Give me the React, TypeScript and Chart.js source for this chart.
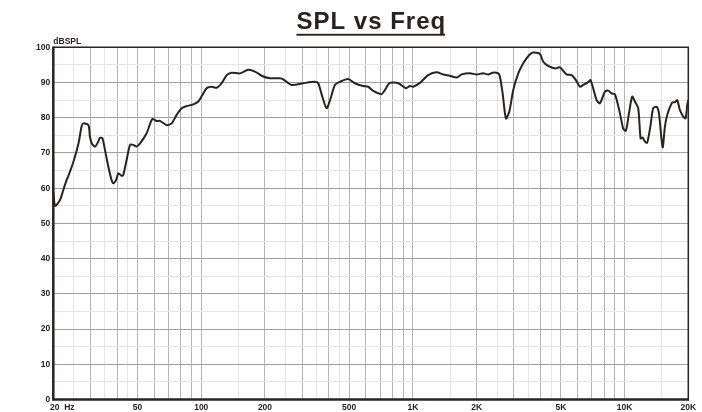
import React, { useEffect, useRef } from "react";
import { Chart, registerables } from "chart.js";

Chart.register(...registerables);

const titleText = "SPL vs Freq";
const yUnitLabel = "dBSPL";

const freqHz = [
  20, 20.4, 21.5, 22.3, 23.1, 23.5, 24.9, 26.3, 27.2, 27.7, 29.3, 29.8, 30.4, 31.5, 32.6, 33.2, 34.1,
  35.1, 36.4, 37.7, 38.4, 39.6, 40.6, 42.1, 42.8, 44.4, 46.1, 47.7, 49.5, 51.4, 55.2, 58.7, 61.6,
  63.8, 68.7, 72.5, 76.5, 80.8, 85.4, 91.7, 96.8, 102.2, 106.1, 112, 118.3, 124.9, 131.9, 139.2,
  152.4, 166.8, 179.4, 196.3, 211.3, 235.4, 244, 267, 303, 344, 357, 371, 391, 406, 428, 452, 494,
  532, 582, 615, 650, 711, 738, 778, 853, 927, 968, 1003, 1079, 1181, 1294, 1390, 1496, 1610, 1700,
  1860, 2000, 2150, 2270, 2380, 2530, 2576, 2654, 2750, 2852, 2979, 3146, 3322, 3546, 3702, 3982,
  4128, 4358, 4688, 4950, 5324, 5620, 5888, 6152, 6376, 6732, 6910, 7376, 7646, 8072, 8368, 8684,
  9000, 9504, 9852, 10146, 10518, 10866, 11190, 11600, 11906, 12166, 12474, 12790, 13268, 13650,
  14170, 14526, 15126, 15508, 15900, 16786, 17288, 17726, 18254, 18920, 19418, 19762, 20000,
];

const splDb = [
  59.0, 55.0, 56.6, 59.5, 62.3, 63.3, 67.5, 72.7, 77.5, 78.4, 77.9, 74.6, 72.7, 71.8, 73.2, 74.3, 74.2,
  70.8, 66.1, 62.3, 61.4, 62.3, 64.2, 63.5, 63.7, 68.0, 72.3, 72.3, 71.8, 72.7, 75.6, 79.6, 79.1,
  79.1, 77.9, 78.4, 80.8, 82.7, 83.3, 83.8, 84.6, 86.9, 88.4, 88.8, 88.5, 89.8, 92.1, 92.8,
  92.6, 93.6, 93.1, 91.7, 91.2, 91.2, 90.9, 89.3, 89.8, 90.2, 89.8, 86.5, 82.7, 85.0, 89.3, 90.2, 91.0,
  89.8, 89.0, 88.8, 87.6, 86.7, 87.9, 89.9, 89.8, 88.4, 89.0, 88.8, 89.9, 92.1, 92.9, 92.3, 91.9, 91.4, 92.3,
  92.6, 92.3, 92.6, 92.3, 92.8, 92.6, 91.7, 86.9, 79.8, 81.7, 87.9, 92.6, 95.5, 97.8, 98.5, 98.1,
  95.9, 94.7, 94.0, 94.3, 92.3, 92.1, 90.7, 88.8, 89.3, 90.1, 90.7, 85.0, 84.1, 87.4, 87.7, 86.9,
  86.7, 81.3, 76.9, 76.3, 81.7, 86.0, 84.6, 82.7, 74.1, 74.4, 73.2, 72.9, 77.9, 82.7,
  83.1, 81.3, 71.6, 77.5, 80.8, 84.3, 84.4, 85.0, 82.2, 80.4, 79.8, 83.6, 85.0,
];

const xTickValues = [20, 50, 100, 200, 500, 1000, 2000, 5000, 10000, 20000];
const xTickLabels = ["20  Hz", "50", "100", "200", "500", "1K", "2K", "5K", "10K", "20K"];
const yTickValues = [0, 10, 20, 30, 40, 50, 60, 70, 80, 90, 100];
const gridMultipliers = [1, 1.5, 2, 2.5, 3, 3.5, 4, 4.5, 5, 6, 7, 8, 9];
const gridDecades = [10, 100, 1000, 10000];

const INK = "#2a2220";
const FONT = '"Liberation Sans", Arial, Helvetica, sans-serif';

function isMajorFreq(v: number) {
  const m = v / Math.pow(10, Math.floor(Math.log10(v) + 1e-9));
  return Math.abs(m - Math.round(m)) < 1e-6;
}

const decorPlugin = {
  id: "decor",
  afterDraw(chart: any) {
    const ctx = chart.ctx as CanvasRenderingContext2D;
    const { left, right, top, bottom } = chart.chartArea;
    ctx.save();
    // frame
    ctx.strokeStyle = INK;
    ctx.lineWidth = 1.5;
    ctx.beginPath();
    ctx.moveTo(left, top);
    ctx.lineTo(right, top);
    ctx.lineTo(right, bottom);
    ctx.stroke();
    ctx.lineWidth = 2.5;
    ctx.beginPath();
    ctx.moveTo(left, top - 0.75);
    ctx.lineTo(left, bottom);
    ctx.lineTo(right + 0.75, bottom);
    ctx.stroke();

    // x tick labels
    const xs = chart.scales.x;
    ctx.fillStyle = INK;
    ctx.font = `bold 8.5px ${FONT}`;
    ctx.textBaseline = "alphabetic";
    xTickValues.forEach((v, i) => {
      const px = xs.getPixelForValue(v);
      if (i === 0) {
        ctx.textAlign = "left";
        ctx.fillText(xTickLabels[i], px - 3.3, bottom + 10);
      } else {
        ctx.textAlign = "center";
        ctx.fillText(xTickLabels[i], px, bottom + 10);
      }
    });

    // unit label
    ctx.textAlign = "left";
    ctx.fillText(yUnitLabel, left, top - 3.3);

    // title
    ctx.font = `bold 24px ${FONT}`;
    (ctx as any).letterSpacing = "1px";
    const w = ctx.measureText(titleText).width - 1;
    const cx = (left + right) / 2;
    const x0 = cx - w / 2;
    ctx.textAlign = "left";
    ctx.fillText(titleText, x0, 29);
    ctx.fillRect(x0, 33.8, w, 1.9);
    ctx.restore();
  },
};

export default function App() {
  const ref = useRef<HTMLCanvasElement | null>(null);

  useEffect(() => {
    if (!ref.current) return;
    const points = freqHz.map((f, i) => ({ x: f, y: splDb[i] }));
    const gridVals: number[] = [];
    gridDecades.forEach((d) =>
      gridMultipliers.forEach((m) => {
        const v = d * m;
        if (v >= 20 && v <= 20000) gridVals.push(v);
      })
    );

    const chart = new Chart(ref.current, {
      type: "line",
      data: {
        datasets: [
          {
            data: points,
            borderColor: INK,
            borderWidth: 2,
            pointRadius: 0,
            tension: 0.25,
            fill: false,
          },
        ],
      },
      options: {
        animation: false,
        responsive: false,
        devicePixelRatio: 1,
        layout: { padding: { top: 47.3, right: 13.7, left: 0, bottom: 0 } },
        plugins: {
          legend: { display: false },
          title: { display: false },
          tooltip: { enabled: false },
        },
        scales: {
          x: {
            type: "logarithmic",
            min: 20,
            max: 20000,
            afterBuildTicks: (scale: any) => {
              scale.ticks = gridVals.map((v) => ({ value: v }));
            },
            afterFit: (scale: any) => {
              scale.height = 12.5;
            },
            ticks: { display: false, autoSkip: false },
            border: { display: false },
            grid: {
              drawTicks: false,
              lineWidth: 1,
              color: (c: any) => (isMajorFreq(c.tick.value) ? "#b4b4b4" : "#e4e4e4"),
            },
          },
          y: {
            type: "linear",
            min: 0,
            max: 100,
            afterBuildTicks: (scale: any) => {
              const t: { value: number }[] = [];
              for (let v = 0; v <= 100; v += 5) t.push({ value: v });
              scale.ticks = t;
            },
            afterFit: (scale: any) => {
              scale.width = 53.3;
            },
            border: { display: false },
            grid: {
              drawTicks: false,
              lineWidth: 1,
              color: (c: any) => (c.tick.value % 10 === 0 ? "#a0a0a0" : "#e4e4e4"),
            },
            ticks: {
              autoSkip: false,
              padding: 3,
              color: INK,
              font: { family: FONT, size: 8.5, weight: "bold" },
              callback: (v: any) => (yTickValues.includes(Number(v)) ? String(v) : ""),
            },
          },
        },
      },
      plugins: [decorPlugin],
    });
    return () => chart.destroy();
  }, []);

  return (
    <div style={{ position: "fixed", left: 0, top: 0, width: 702, height: 412, background: "#fff" }}>
      <canvas ref={ref} width={702} height={412} style={{ display: "block", width: 702, height: 412 }} />
    </div>
  );
}
